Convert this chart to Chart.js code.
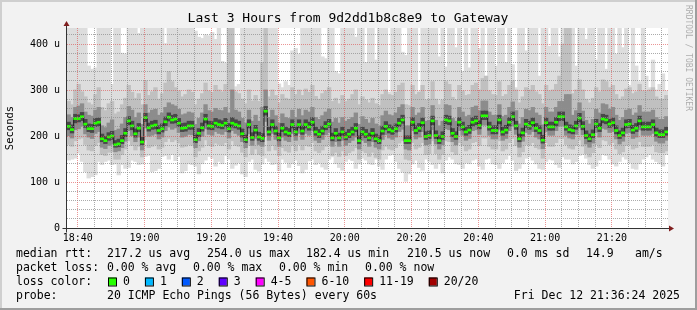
<!DOCTYPE html>
<html>
<head>
<meta charset="utf-8">
<script src="https://cdn.jsdelivr.net/npm/chart.js@4.4.1/dist/chart.umd.min.js"></script>
<style>
  html, body { margin: 0; padding: 0; background: #f2f2f2; }
  canvas { display: block; }
</style>
</head>
<body>
<canvas id="smoke-chart" width="697" height="310"></canvas>
<script>
// one value per 60 s step, in microseconds
const rttMedian = [
  221, 214, 238, 238, 242, 226, 216, 216, 228, 230,
  194, 190, 198, 200, 181, 183, 190, 206, 233, 222,
  205, 217, 187, 240, 218, 222, 224, 212, 216, 231,
  241, 235, 237, 228, 217, 218, 222, 222, 192, 206,
  218, 237, 222, 221, 228, 225, 223, 228, 216, 228,
  225, 222, 205, 192, 225, 197, 213, 198, 195, 254,
  209, 225, 211, 196, 217, 209, 206, 225, 209, 225,
  211, 225, 220, 230, 209, 204, 211, 221, 226, 196,
  206, 196, 209, 198, 204, 209, 217, 190, 209, 204,
  196, 206, 194, 190, 211, 221, 214, 211, 216, 228,
  235, 190, 190, 230, 212, 217, 229, 199, 201, 233,
  201, 190, 199, 235, 233, 206, 199, 230, 220, 209,
  213, 230, 233, 223, 244, 244, 220, 212, 212, 235,
  209, 213, 230, 242, 222, 194, 207, 226, 222, 229,
  217, 212, 191, 229, 220, 220, 230, 242, 242, 220,
  214, 212, 222, 239, 221, 201, 194, 203, 226, 217,
  237, 235, 226, 229, 212, 201, 207, 225, 226, 213,
  217, 233, 220, 220, 220, 225, 207, 203, 203, 209
];

// smoke: sorted pings of each step (1st/20th, 3rd/18th, 6th/15th, 9th/12th)
const rttMin = [
  148, 150, 152, 163, 145, 123, 109, 112, 116, 145,
  138, 145, 148, 138, 140, 116, 138, 130, 132, 148,
  145, 138, 140, 156, 158, 123, 125, 130, 156, 158,
  150, 160, 147, 156, 120, 125, 140, 138, 135, 118,
  140, 148, 156, 152, 135, 145, 140, 158, 150, 130,
  137, 142, 118, 112, 145, 150, 128, 124, 140, 152,
  145, 138, 140, 125, 150, 143, 132, 140, 148, 136,
  120, 128, 146, 150, 138, 142, 133, 128, 150, 155,
  140, 132, 126, 145, 150, 147, 130, 140, 152, 148,
  140, 138, 150, 135, 128, 150, 158, 160, 145, 130,
  122, 102, 118, 140, 148, 132, 126, 150, 145, 138,
  130, 140, 120, 148, 155, 150, 140, 138, 130, 142,
  140, 148, 150, 135, 128, 150, 152, 140, 138, 130,
  142, 150, 158, 148, 125, 130, 140, 152, 155, 148,
  140, 130, 128, 145, 150, 148, 138, 132, 155, 150,
  150, 140, 145, 158, 160, 152, 138, 130, 135, 148,
  160, 158, 150, 140, 135, 145, 155, 150, 142, 130,
  128, 140, 150, 155, 160, 150, 145, 140, 135, 160
];
const rttMax = [
  440, 440, 440, 440, 440, 440, 352, 345, 348, 440,
  440, 440, 440, 312, 440, 440, 380, 378, 440, 440,
  440, 423, 440, 440, 440, 440, 440, 440, 440, 401,
  440, 440, 440, 440, 440, 440, 440, 440, 428, 415,
  412, 420, 418, 425, 410, 440, 362, 358, 440, 440,
  307, 312, 440, 440, 440, 440, 440, 440, 440, 440,
  440, 440, 440, 313, 305, 318, 310, 385, 390, 378,
  440, 440, 440, 440, 440, 440, 372, 368, 440, 440,
  340, 335, 440, 440, 440, 440, 415, 440, 440, 360,
  440, 440, 365, 440, 440, 440, 295, 440, 440, 440,
  382, 375, 440, 440, 440, 298, 440, 440, 440, 440,
  440, 372, 440, 350, 440, 440, 392, 440, 340, 440,
  348, 440, 440, 390, 440, 330, 440, 440, 352, 440,
  440, 360, 440, 355, 305, 440, 440, 385, 440, 440,
  440, 330, 440, 440, 395, 440, 440, 372, 440, 440,
  440, 440, 352, 440, 440, 410, 440, 440, 365, 440,
  440, 345, 440, 440, 378, 440, 392, 440, 310, 440,
  352, 318, 440, 330, 305, 365, 300, 312, 335, 298
];
const rttP3 = [
  182, 178, 190, 194, 196, 182, 170, 168, 180, 186,
  160, 158, 165, 166, 150, 150, 160, 172, 190, 180,
  170, 178, 155, 192, 175, 178, 182, 172, 176, 188,
  195, 188, 192, 185, 176, 178, 182, 180, 155, 168,
  176, 192, 180, 178, 185, 182, 180, 186, 172, 190,
  180, 178, 165, 155, 180, 160, 172, 160, 158, 200,
  168, 180, 170, 158, 175, 168, 165, 180, 168, 182,
  170, 180, 178, 186, 168, 164, 170, 178, 182, 158,
  165, 156, 168, 158, 164, 168, 175, 150, 168, 164,
  156, 165, 154, 150, 170, 178, 172, 170, 175, 185,
  190, 150, 148, 186, 172, 176, 186, 160, 162, 190,
  162, 150, 160, 190, 188, 166, 160, 186, 180, 168,
  172, 186, 188, 180, 196, 196, 178, 172, 172, 190,
  168, 172, 186, 195, 180, 155, 166, 182, 180, 186,
  175, 172, 152, 186, 178, 178, 186, 195, 195, 182,
  174, 172, 180, 192, 178, 162, 155, 164, 182, 175,
  192, 190, 182, 186, 172, 162, 166, 180, 182, 172,
  175, 188, 178, 178, 178, 182, 166, 164, 164, 168
];
const rttP18 = [
  275, 268, 300, 312, 296, 285, 272, 268, 290, 305,
  262, 255, 270, 275, 248, 252, 268, 282, 310, 295,
  282, 292, 268, 320, 288, 296, 305, 280, 292, 315,
  340, 318, 305, 298, 285, 290, 300, 295, 268, 280,
  292, 315, 298, 295, 310, 300, 296, 312, 440, 440,
  296, 292, 280, 270, 300, 276, 288, 275, 360, 440,
  285, 300, 288, 272, 290, 282, 280, 305, 290, 300,
  288, 302, 295, 310, 286, 280, 292, 298, 305, 275,
  282, 270, 288, 275, 280, 290, 300, 268, 285, 278,
  272, 282, 270, 266, 290, 300, 290, 288, 295, 310,
  315, 268, 266, 310, 290, 295, 310, 278, 280, 318,
  280, 268, 278, 318, 312, 284, 278, 310, 298, 288,
  290, 310, 315, 300, 325, 330, 298, 290, 288, 318,
  286, 290, 310, 320, 300, 272, 285, 305, 300, 310,
  296, 290, 270, 310, 298, 300, 312, 330, 400, 440,
  440, 292, 300, 322, 300, 280, 272, 282, 305, 296,
  322, 318, 305, 310, 290, 280, 285, 302, 305, 292,
  296, 312, 298, 298, 300, 305, 285, 280, 280, 288
];
const rttP6 = [
  201, 196, 214, 216, 222, 205, 198, 195, 206, 210,
  176, 173, 180, 183, 166, 168, 175, 189, 212, 201,
  188, 198, 170, 218, 200, 202, 205, 194, 198, 212,
  220, 215, 218, 208, 198, 200, 204, 203, 175, 190,
  200, 216, 204, 202, 210, 206, 204, 210, 196, 212,
  206, 202, 188, 175, 205, 180, 195, 182, 178, 232,
  191, 206, 193, 178, 198, 191, 188, 206, 191, 206,
  193, 206, 202, 212, 191, 186, 193, 203, 208, 178,
  188, 178, 191, 180, 186, 191, 198, 172, 191, 186,
  178, 188, 176, 172, 193, 203, 196, 193, 198, 210,
  215, 172, 170, 212, 194, 198, 210, 181, 183, 214,
  183, 172, 181, 216, 214, 188, 181, 212, 202, 191,
  195, 212, 214, 204, 224, 224, 202, 194, 194, 215,
  191, 195, 212, 222, 204, 176, 189, 208, 204, 210,
  198, 194, 173, 210, 202, 202, 212, 222, 222, 202,
  196, 194, 204, 219, 203, 183, 176, 185, 208, 198,
  217, 215, 208, 210, 194, 183, 189, 206, 208, 195,
  198, 214, 202, 202, 202, 206, 189, 185, 185, 191
];
const rttP15 = [
  246, 240, 262, 265, 270, 252, 245, 243, 256, 262,
  222, 218, 228, 235, 212, 215, 226, 240, 264, 256,
  240, 250, 225, 268, 250, 256, 258, 245, 250, 262,
  272, 268, 265, 258, 246, 248, 252, 250, 225, 238,
  250, 268, 255, 252, 260, 256, 255, 262, 250, 300,
  256, 252, 238, 228, 256, 232, 245, 232, 262, 300,
  240, 256, 244, 228, 248, 240, 238, 256, 240, 258,
  244, 256, 252, 262, 240, 236, 244, 252, 258, 230,
  238, 228, 240, 232, 236, 240, 250, 225, 242, 236,
  228, 238, 226, 222, 244, 254, 246, 244, 250, 262,
  268, 222, 222, 262, 245, 250, 262, 232, 234, 266,
  234, 222, 232, 268, 266, 238, 232, 262, 252, 242,
  245, 262, 265, 255, 276, 276, 252, 245, 245, 268,
  242, 245, 262, 274, 255, 226, 240, 258, 255, 262,
  250, 245, 224, 262, 252, 252, 262, 275, 275, 290,
  290, 245, 255, 272, 254, 234, 226, 236, 258, 250,
  270, 268, 258, 262, 245, 234, 240, 256, 258, 245,
  250, 266, 252, 252, 252, 256, 240, 236, 236, 242
];
const rttP9 = [
  214, 207, 229, 231, 234, 219, 210, 208, 221, 222,
  188, 184, 191, 193, 176, 177, 184, 199, 225, 214,
  198, 210, 181, 232, 211, 215, 216, 205, 209, 223,
  233, 228, 229, 221, 210, 211, 215, 215, 186, 199,
  211, 229, 215, 214, 220, 218, 216, 221, 209, 220,
  218, 215, 198, 186, 218, 191, 206, 191, 188, 246,
  202, 218, 204, 190, 210, 202, 199, 218, 202, 218,
  204, 218, 213, 222, 202, 197, 204, 214, 219, 190,
  199, 190, 202, 192, 197, 202, 210, 184, 202, 197,
  190, 199, 188, 184, 204, 214, 207, 204, 209, 221,
  228, 184, 184, 222, 205, 210, 221, 193, 195, 225,
  195, 184, 193, 227, 225, 199, 193, 222, 213, 202,
  206, 222, 225, 216, 236, 236, 213, 205, 205, 227,
  202, 206, 222, 234, 215, 188, 200, 219, 215, 221,
  210, 205, 185, 221, 213, 213, 222, 234, 234, 213,
  207, 205, 215, 231, 214, 195, 188, 197, 219, 210,
  229, 227, 219, 221, 205, 195, 200, 218, 219, 206,
  210, 225, 213, 213, 213, 218, 200, 197, 197, 202
];
const rttP12 = [
  230, 224, 247, 246, 251, 236, 226, 225, 238, 239,
  204, 199, 207, 210, 190, 193, 201, 216, 242, 232,
  215, 227, 197, 249, 228, 232, 234, 222, 226, 241,
  250, 245, 247, 238, 227, 228, 232, 232, 202, 216,
  228, 247, 232, 231, 238, 235, 233, 238, 227, 240,
  235, 232, 215, 202, 235, 207, 223, 208, 205, 264,
  219, 235, 221, 206, 227, 219, 216, 235, 219, 235,
  221, 235, 230, 240, 219, 214, 221, 231, 236, 206,
  216, 206, 219, 208, 214, 219, 227, 200, 219, 214,
  206, 216, 204, 200, 221, 231, 224, 221, 226, 238,
  245, 200, 200, 240, 222, 227, 239, 209, 211, 243,
  211, 200, 209, 245, 243, 216, 209, 240, 230, 219,
  223, 240, 243, 233, 254, 254, 230, 222, 222, 245,
  219, 223, 240, 252, 232, 204, 217, 236, 232, 239,
  227, 222, 201, 239, 230, 230, 240, 252, 252, 230,
  224, 222, 232, 249, 231, 211, 204, 213, 236, 227,
  247, 245, 236, 239, 222, 211, 217, 235, 236, 223,
  227, 243, 230, 230, 230, 235, 217, 213, 213, 219
];

const timeTicks = ['18:40', '19:00', '19:20', '19:40', '20:00', '20:20', '20:40', '21:00', '21:20'];
const valueTicks = ['0', '100 u', '200 u', '300 u', '400 u'];

const titleText = 'Last 3 Hours from 9d2dd1b8c8e9 to Gateway';
const rttStats = ['217.2 us avg', '254.0 us max', '182.4 us min', '210.5 us now', '0.0 ms sd', '14.9', 'am/s'];
const lossStats = ['0.00 % avg', '0.00 % max', '0.00 % min', '0.00 % now'];
const lossLabels = ['0', '1', '2', '3', '4-5', '6-10', '11-19', '20/20'];
const lossColors = ['#26ff00', '#00b8ff', '#0059ff', '#5e00ff', '#ff00ff', '#ff5500', '#ff0000', '#a10000'];
const probeText = '20 ICMP Echo Pings (56 Bytes) every 60s';
const stampText = 'Fri Dec 12 21:36:24 2025';

// x axis runs in minutes after 18:00
const startMinute = 36.8;
const endMinute = 216.8;
const markHalf = 2.2;       // green median tick, about 1px each way

const toMinute = (t) => {
  const [h, m] = t.split(':').map(Number);
  return (h - 18) * 60 + m;
};
const minuteLabels = new Map(timeTicks.map(t => [toMinute(t), t]));
const gridMinutes = [];
for (let m = 40; m < endMinute; m += 5) gridMinutes.push(m);
const gridValues = [];
for (let v = 0; v <= 420; v += 20) gridValues.push(v);

const stepX = (i) => startMinute + 0.5 + i;
const band = (lo, hi) => lo.map((v, i) => ({ x: stepX(i), y: [v, hi[i]] }));

const minorGrid = 'rgba(143,143,143,0.75)';
const majorGrid = 'rgba(222,79,79,0.6)';

const frame = {
  id: 'frame',
  beforeDraw(chart) {
    const { ctx, width, height, chartArea: a } = chart;
    ctx.save();
    ctx.fillStyle = '#f2f2f2';
    ctx.fillRect(0, 0, width, height);
    ctx.fillStyle = '#cfcfcf';
    ctx.fillRect(0, 0, width, 2);
    ctx.fillRect(0, 0, 2, height);
    ctx.fillStyle = '#9e9e9e';
    ctx.fillRect(0, height - 2, width, 2);
    ctx.fillRect(width - 2, 0, 2, height);
    ctx.fillStyle = '#ffffff';
    ctx.fillRect(a.left, a.top, a.right - a.left, a.bottom - a.top);
    ctx.restore();
  },
  afterDatasetsDraw(chart) {
    // rrdtool puts its dotted grid (1px on, 1px off) on top of the graph
    const { ctx, chartArea: a, scales: { x, y } } = chart;
    const top = Math.round(a.top), bottom = Math.round(a.bottom);
    const left = Math.round(a.left), right = Math.round(a.right);
    ctx.save();
    gridMinutes.forEach(m => {
      const col = Math.floor(x.getPixelForValue(m));
      ctx.fillStyle = minuteLabels.has(m) ? majorGrid : minorGrid;
      ctx.beginPath();
      for (let row = top; row < bottom; row += 2) ctx.rect(col, row, 1, 1);
      ctx.fill();
    });
    gridValues.filter(v => v > 0).forEach(v => {
      const row = Math.floor(y.getPixelForValue(v));
      ctx.fillStyle = v % 100 === 0 ? majorGrid : minorGrid;
      ctx.beginPath();
      for (let col = left; col < right; col += 2) ctx.rect(col, row, 1, 1);
      ctx.fill();
    });
    ctx.restore();
  },
  afterDraw(chart) {
    const { ctx, chartArea: a } = chart;
    const x0 = a.left - 0.5, y0 = a.bottom + 0.5;
    ctx.save();
    ctx.strokeStyle = '#333333';
    ctx.lineWidth = 1;
    ctx.beginPath();
    ctx.moveTo(x0 - 4, y0);
    ctx.lineTo(a.right + 3, y0);
    ctx.moveTo(x0, y0 + 4);
    ctx.lineTo(x0, a.top - 3);
    ctx.stroke();
    ctx.fillStyle = '#801f1f';
    ctx.beginPath();
    ctx.moveTo(a.right + 1, y0 - 3);
    ctx.lineTo(a.right + 6, y0);
    ctx.lineTo(a.right + 1, y0 + 3);
    ctx.closePath();
    ctx.fill();
    ctx.beginPath();
    ctx.moveTo(x0 - 3, a.top - 2);
    ctx.lineTo(x0, a.top - 7);
    ctx.lineTo(x0 + 3, a.top - 2);
    ctx.closePath();
    ctx.fill();
    ctx.restore();
  }
};

const chartText = {
  id: 'chartText',
  afterDraw(chart) {
    const ctx = chart.ctx;
    const mono = (px) => px + 'px "DejaVu Sans Mono"';
    ctx.save();
    ctx.fillStyle = '#000';
    ctx.textBaseline = 'middle';

    ctx.font = mono(13);
    ctx.textAlign = 'center';
    ctx.fillText(titleText, 348, 19);

    ctx.save();
    ctx.font = mono(10.5);
    ctx.translate(10, 128);
    ctx.rotate(-Math.PI / 2);
    ctx.fillText('Seconds', 0, 0);
    ctx.restore();

    ctx.save();
    ctx.font = mono(8);
    ctx.fillStyle = 'rgba(0,0,0,0.3)';
    ctx.textAlign = 'left';
    ctx.translate(688, 5);
    ctx.rotate(Math.PI / 2);
    ctx.fillText('RRDTOOL / TOBI OETIKER', 0, 0);
    ctx.restore();

    ctx.font = mono(11.5);
    ctx.textAlign = 'left';
    const rows = [254, 268, 282, 296];
    ctx.fillText('median rtt:', 16, rows[0]);
    const rttX = [107, 207, 306, 407, 507, 586, 635];
    rttStats.forEach((s, i) => ctx.fillText(s, rttX[i], rows[0]));
    ctx.fillText('packet loss:', 16, rows[1]);
    const lossX = [107, 193, 279, 365];
    lossStats.forEach((s, i) => ctx.fillText(s, lossX[i], rows[1]));

    ctx.fillText('loss color:', 16, rows[2]);
    let x = 108;
    lossLabels.forEach((label, i) => {
      ctx.fillStyle = lossColors[i];
      ctx.fillRect(x, rows[2] - 4.5, 8, 8);
      ctx.strokeStyle = '#000';
      ctx.lineWidth = 1;
      ctx.strokeRect(x + 0.5, rows[2] - 4, 8, 8);
      ctx.fillStyle = '#000';
      ctx.fillText(label, x + 15, rows[2]);
      x += 15 + ctx.measureText(label).width + 15;
    });

    ctx.fillText('probe:', 16, rows[3]);
    ctx.fillText(probeText, 107, rows[3]);
    ctx.textAlign = 'right';
    ctx.fillText(stampText, 680, rows[3]);
    ctx.restore();
  }
};

const tickFont = { family: 'DejaVu Sans Mono', size: 10 };

new Chart(document.getElementById('smoke-chart'), {
  type: 'bar',
  data: {
    datasets: [
      { label: 'loss 0', data: rttMedian.map((v, i) => ({ x: stepX(i), y: [v - markHalf, v + markHalf] })),
        backgroundColor: lossColors[0], order: 0, inflateAmount: 0.33 },
      { type: 'line', label: 'median', data: rttMedian.map((v, i) => ({ x: stepX(i), y: v })),
        borderColor: '#202020', borderWidth: 1, pointRadius: 0, stepped: 'middle', fill: false, order: 1 },
      { label: 'p9-p12', data: band(rttP9, rttP12), backgroundColor: '#484848', order: 2 },
      { label: 'p6-p15', data: band(rttP6, rttP15), backgroundColor: '#8c8c8c', order: 3 },
      { label: 'p3-p18', data: band(rttP3, rttP18), backgroundColor: '#c0c0c0', order: 4 },
      { label: 'min-max', data: band(rttMin, rttMax), backgroundColor: '#dddddd', order: 5 }
    ]
  },
  options: {
    responsive: false,
    animation: false,
    devicePixelRatio: 1,
    layout: { padding: { left: 0, right: 29, top: 28, bottom: 0 } },
    datasets: {
      bar: { barPercentage: 1, categoryPercentage: 1, grouped: false, borderWidth: 0, inflateAmount: 0.5 }
    },
    plugins: { legend: { display: false }, tooltip: { enabled: false }, title: { display: false } },
    scales: {
      x: {
        type: 'linear',
        min: startMinute,
        max: endMinute,
        offset: false,
        afterBuildTicks: (axis) => { axis.ticks = gridMinutes.map(value => ({ value })); },
        afterFit: (axis) => { axis.height = 82; },
        grid: { display: false, drawTicks: false, offset: false },
        border: { display: false },
        ticks: {
          autoSkip: false, maxRotation: 0, padding: 4, color: '#000', font: tickFont,
          callback: (v) => minuteLabels.get(v) ?? ''
        }
      },
      y: {
        min: 0,
        max: 435,
        afterBuildTicks: (axis) => { axis.ticks = gridValues.map(value => ({ value })); },
        afterFit: (axis) => { axis.width = 67; },
        grid: { display: false, drawTicks: false },
        border: { display: false },
        ticks: {
          autoSkip: false, padding: 7, color: '#000', font: tickFont,
          callback: (v) => v % 100 === 0 ? valueTicks[v / 100] : ''
        }
      }
    }
  },
  plugins: [frame, chartText]
});
</script>
</body>
</html>
